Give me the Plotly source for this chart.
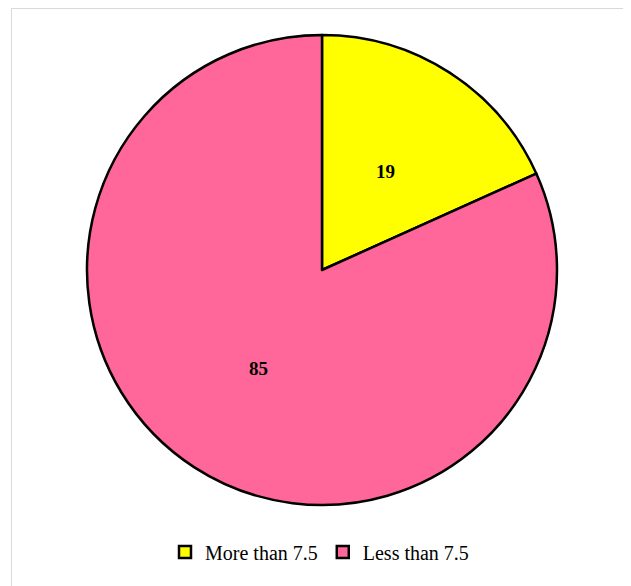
import math
import plotly.graph_objects as go

categories = ["More than 7.5", "Less than 7.5"]
values = [19, 85]
colors = ["#FFFF00", "#FF6699"]

# page body has an 8px margin; lay out in figure coordinates
OFF = 8
W, H = 631 - OFF, 586 - OFF
cx, cy, r = 322 - OFF, 270 - OFF, 235

fig = go.Figure(go.Pie(
    labels=categories,
    values=values,
    sort=False,
    direction="clockwise",
    rotation=0,
    marker=dict(colors=colors, line=dict(color="#000000", width=2.5)),
    textinfo="none",
    hoverinfo="label+value",
    domain=dict(x=[(cx - r) / W, (cx + r) / W], y=[1 - (cy + r) / H, 1 - (cy - r) / H]),
))

# data labels at half radius along each slice's mid-angle
annotations = []
total = sum(values)
cum = 0
for v in values:
    mid = (cum + v / 2) / total * 2 * math.pi
    cum += v
    px = cx + 0.5 * r * math.sin(mid)
    py = cy - 0.5 * r * math.cos(mid)
    annotations.append(dict(
        x=px / W, y=1 - py / H, xref="paper", yref="paper",
        text=f"<b>{v}</b>", showarrow=False,
        font=dict(family="Liberation Serif", size=19, color="#000000"),
        xanchor="center", yanchor="middle",
    ))

fig.update_layout(
    width=W, height=H,
    margin=dict(l=0, r=0, t=0, b=0),
    paper_bgcolor="white",
    plot_bgcolor="white",
    font=dict(family="Liberation Serif", size=16, color="#000000"),
    showlegend=True,
    legend=dict(
        orientation="h",
        x=0.5, xanchor="center",
        y=1 - (552 - OFF) / H, yanchor="middle",
        font=dict(family="Liberation Serif", size=20, color="#000000"),
        itemwidth=30,
        tracegroupgap=0,
    ),
    annotations=annotations,
    shapes=[dict(
        type="rect", xref="paper", yref="paper",
        x0=(11.5 - OFF) / W, x1=(630.5 - OFF) / W, y0=-0.01, y1=1 - (8.5 - OFF) / H,
        line=dict(color="#D9D9D9", width=1), fillcolor="rgba(0,0,0,0)",
        layer="below",
    )],
)

fig.write_html("out.html")
